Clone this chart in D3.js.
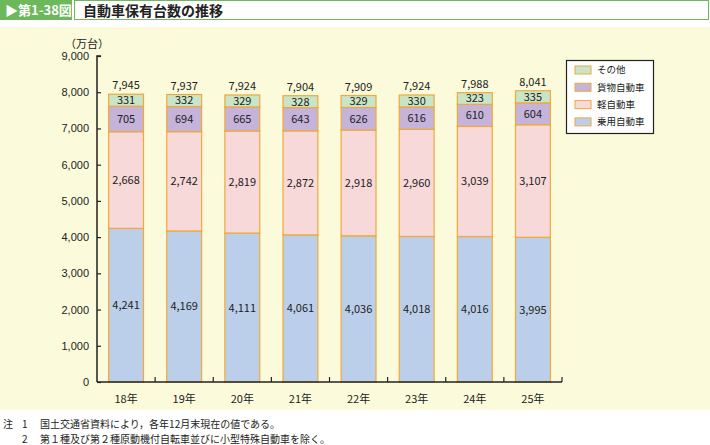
<!DOCTYPE html>
<html>
<head>
<meta charset="utf-8">
<script src="https://cdn.jsdelivr.net/npm/d3@7"></script>
<style>
  body { margin: 0; background: #fff; }
  text { font-family: "Noto Sans CJK JP", "Liberation Sans", sans-serif; }
</style>
</head>
<body>
<div id="chart"></div>
<script>
// data (万台)
var years = ["18年", "19年", "20年", "21年", "22年", "23年", "24年", "25年"];
var passenger = [4241, 4169, 4111, 4061, 4036, 4018, 4016, 3995];
var kei = [2668, 2742, 2819, 2872, 2918, 2960, 3039, 3107];
var freight = [705, 694, 665, 643, 626, 616, 610, 604];
var other = [331, 332, 329, 328, 329, 330, 323, 335];
var totals = [7945, 7937, 7924, 7904, 7909, 7924, 7988, 8041];
var yTicks = [0, 1000, 2000, 3000, 4000, 5000, 6000, 7000, 8000, 9000];

var seriesNames = ["乗用自動車", "軽自動車", "貨物自動車", "その他"];
var seriesValues = [passenger, kei, freight, other];
var colors = ["#bccfea", "#f7d9d9", "#c5b3da", "#c9e5c8"];
var edge = "#f0a83a";

var svgWidth = 710, svgHeight = 445;
var svg = d3.select("#chart").append("svg")
  .attr("width", svgWidth)
  .attr("height", svgHeight);

// title bar
svg.append("rect").attr("x", 0).attr("y", 0).attr("width", 72).attr("height", 20).attr("fill", "#6cb85a");
svg.append("text").attr("x", 5).attr("y", 15).attr("fill", "#fff")
  .style("font-size", "13px").style("font-weight", "bold").text("▶第1-38図");
svg.append("rect").attr("x", 74.5).attr("y", 0.5).attr("width", 634).attr("height", 19)
  .attr("fill", "#fff").attr("stroke", "#6cb85a");
svg.append("text").attr("x", 83).attr("y", 15.5).attr("fill", "#222")
  .style("font-size", "14px").style("font-weight", "bold").text("自動車保有台数の推移");

// chart background
svg.append("rect").attr("x", 0).attr("y", 27).attr("width", svgWidth).attr("height", 383).attr("fill", "#fbfbdb");

var margin = {left: 97, top: 56};
var chartWidth = 465, chartHeight = 326;
var g = svg.append("g").attr("transform", `translate(${margin.left}, ${margin.top})`);

var x = d3.scaleBand().domain(years).range([0, chartWidth]).paddingInner(0.4).paddingOuter(0.2);
var y = d3.scaleLinear().domain([0, 9000]).range([chartHeight, 0]);

// stacking
var table = years.map(function(yr, i) {
  var row = {year: yr};
  seriesNames.forEach(function(n, k) { row[n] = seriesValues[k][i]; });
  return row;
});
var stacked = d3.stack().keys(seriesNames)(table);

var layers = g.selectAll(".layer").data(stacked).enter().append("g")
  .attr("class", "layer")
  .attr("fill", function(d, i) { return colors[i]; });

layers.selectAll("rect").data(function(d) { return d; }).enter().append("rect")
  .attr("x", d => x(d.data.year))
  .attr("y", d => y(d[1]))
  .attr("width", x.bandwidth())
  .attr("height", d => y(d[0]) - y(d[1]))
  .attr("stroke", edge)
  .attr("stroke-width", 1.2);

layers.selectAll("text").data(function(d) { return d; }).enter().append("text")
  .attr("x", d => x(d.data.year) + x.bandwidth() / 2)
  .attr("y", d => (y(d[0]) + y(d[1])) / 2)
  .attr("dy", "0.36em")
  .attr("text-anchor", "middle")
  .attr("fill", "#222")
  .style("font-size", "11px")
  .text(d => d3.format(",")(d[1] - d[0]));

// totals
g.selectAll(".total").data(totals).enter().append("text")
  .attr("class", "total")
  .attr("x", (d, i) => x(years[i]) + x.bandwidth() / 2)
  .attr("y", d => y(d) - 5)
  .attr("text-anchor", "middle")
  .attr("fill", "#222")
  .style("font-size", "11px")
  .text(d => d3.format(",")(d));

// y axis
var leftAxis = d3.axisLeft(y).tickValues(yTicks).tickSize(-4).tickPadding(8).tickFormat(d3.format(","));
var yAxisG = g.append("g").call(leftAxis);
yAxisG.select(".domain").attr("d", `M0,${chartHeight}V0H4`).attr("stroke", "#222").attr("stroke-width", 1.5);
yAxisG.selectAll("line").attr("stroke", "#222").attr("stroke-width", 1.2);
yAxisG.selectAll("text").style("font-size", "11px").attr("fill", "#222").style("font-family", "Liberation Sans, sans-serif");

g.append("text").attr("x", -32).attr("y", -8).attr("fill", "#222")
  .style("font-size", "11px").text("（万台）");

// x axis with divider ticks between categories
var xAxisG = g.append("g").attr("transform", `translate(0, ${chartHeight})`);
xAxisG.append("line").attr("x1", 0).attr("x2", chartWidth).attr("stroke", "#222").attr("stroke-width", 1.5);
var gap = (x.step() - x.bandwidth()) / 2;
xAxisG.selectAll(".div").data(years).enter().append("line")
  .attr("x1", d => x(d) + x.bandwidth() + gap)
  .attr("x2", d => x(d) + x.bandwidth() + gap)
  .attr("y1", 0).attr("y2", -5)
  .attr("stroke", "#222").attr("stroke-width", 1.2);
xAxisG.selectAll(".lbl").data(years).enter().append("text")
  .attr("x", d => x(d) + x.bandwidth() / 2)
  .attr("y", 21)
  .attr("text-anchor", "middle")
  .attr("fill", "#222")
  .style("font-size", "11px")
  .text(d => d);

// legend
var legend = svg.append("g").attr("transform", "translate(566, 60)");
legend.append("rect").attr("x", 0.5).attr("y", 0.5).attr("width", 87).attr("height", 73)
  .attr("fill", "#fff").attr("stroke", "#222").attr("stroke-width", 1.2);
var legendOrder = [3, 2, 1, 0];
var items = legend.selectAll(".item").data(legendOrder).enter().append("g")
  .attr("transform", (d, i) => `translate(9, ${6 + i * 17.3})`);
items.append("rect").attr("width", 16).attr("height", 8)
  .attr("fill", d => colors[d]).attr("stroke", edge).attr("stroke-width", 1);
items.append("text").attr("x", 22).attr("y", 4).attr("dy", "0.36em")
  .attr("fill", "#222").style("font-size", "9.5px")
  .text(d => seriesNames[d]);

// notes
var notes = svg.append("g").style("font-size", "10px").attr("fill", "#222");
notes.append("text").attr("x", 3).attr("y", 428).text("注");
notes.append("text").attr("x", 22).attr("y", 428).text("1");
notes.append("text").attr("x", 40).attr("y", 428).text("国土交通省資料により，各年12月末現在の値である。");
notes.append("text").attr("x", 22).attr("y", 443).text("2");
notes.append("text").attr("x", 40).attr("y", 443).text("第１種及び第２種原動機付自転車並びに小型特殊自動車を除く。");
</script>
</body>
</html>
